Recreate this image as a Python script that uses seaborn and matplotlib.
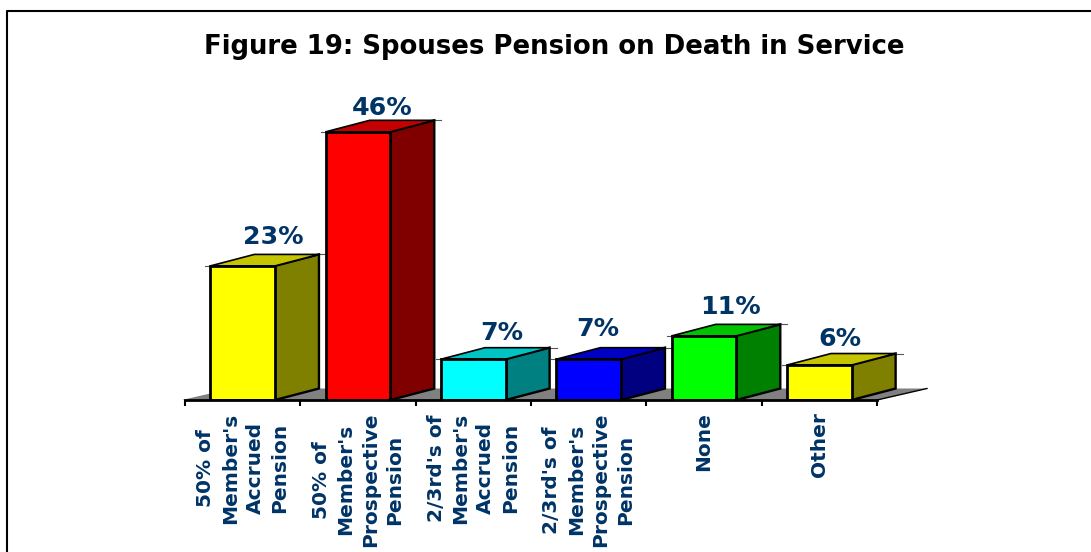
import matplotlib
matplotlib.use("Agg")
import matplotlib.pyplot as plt
from matplotlib.lines import Line2D
from matplotlib.patches import Polygon
import seaborn as sns

categories = ["50% of\nMember's\nAccrued\nPension",
              "50% of\nMember's\nProspective\nPension",
              "2/3rd's of\nMember's\nAccrued\nPension",
              "2/3rd's of\nMember's\nProspective\nPension",
              "None",
              "Other"]
values = [23, 46, 7, 7, 11, 6]
front_colors = ["#ffff00", "#ff0000", "#00ffff", "#0000ff", "#00ff00", "#ffff00"]
side_colors = ["#808000", "#800000", "#008080", "#000080", "#008000", "#808000"]
top_colors = ["#c4c400", "#c40000", "#00c4c4", "#0000c4", "#00c400", "#c4c400"]
title = "Figure 19: Spouses Pension on Death in Service"
TEXT = "#003366"

W, H = 1091, 552
fig = plt.figure(figsize=(W / 100, H / 100), dpi=100, facecolor="white")
PX_PER_CAT = 692 / 6
PX_PER_PCT = 5.83
ax = fig.add_axes([185 / W, (H - 400) / H, 692 / W, 50 * PX_PER_PCT / H])
ax.set_facecolor("none")

sns.barplot(x=categories, y=values, hue=categories, palette=front_colors, legend=False,
            dodge=False, width=0.56, saturation=1, edgecolor="black", linewidth=2,
            zorder=5, ax=ax)
ax.set_xlim(-0.5, 5.5)
ax.set_ylim(0, 50)

dx = 44 / PX_PER_CAT
dy = 11.5 / PX_PER_PCT
spur = 7 / PX_PER_CAT

# floor of the pseudo-3D chart
ax.add_patch(Polygon([(-0.5 - 3 / PX_PER_CAT, 0), (-0.5 + 47 / PX_PER_CAT, dy),
                      (5.5 + 50 / PX_PER_CAT, dy), (5.5, 0)],
                     closed=True, facecolor="#808080", edgecolor="none", zorder=1, clip_on=False))
ax.plot([5.5, 5.5 + 50 / PX_PER_CAT], [0, dy], color="black", lw=1, zorder=1, clip_on=False)

bars = [c[0] for c in ax.containers]
label_dx = [31, 24, 28, 9, 26, 21]
label_dy = [17, 12, 15, 19, 17, 15]
for bar, side, top, val, ldx, ldy in zip(bars, side_colors, top_colors, values, label_dx, label_dy):
    x0, w, h = bar.get_x(), bar.get_width(), bar.get_height()
    x1 = x0 + w
    ax.add_patch(Polygon([(x1, 0), (x1 + dx, dy), (x1 + dx, h + dy), (x1, h)], closed=True,
                         facecolor=side, edgecolor="black", linewidth=1.7, zorder=4, clip_on=False))
    ax.add_patch(Polygon([(x0, h), (x0 + dx, h + dy), (x1 + dx, h + dy), (x1, h)], closed=True,
                         facecolor=top, edgecolor="black", linewidth=1.2, zorder=4, clip_on=False))
    # thin spurs where the gridline plane shows past the bar top
    ax.plot([x1 + dx, x1 + dx + spur], [h + dy, h + dy], color="#555555", lw=0.8, zorder=3, clip_on=False)
    ax.plot([x0 - spur * 0.7, x0], [h, h], color="#555555", lw=0.8, zorder=3, clip_on=False)
    ax.annotate(f"{val}%", (x0 + w / 2, h + dy), xytext=(ldx * 0.72, ldy * 0.72),
                textcoords="offset points", ha="center", va="center", fontsize=18.2,
                fontweight="bold", color=TEXT, zorder=6, annotation_clip=False)

sns.despine(ax=ax, left=True, top=True, right=True)
ax.spines["bottom"].set_linewidth(2)
ax.spines["bottom"].set_zorder(6)
ax.yaxis.set_visible(False)
# ticks mark the category boundaries, labels sit between them
ax.set_xticks([i - 0.5 for i in range(len(categories) + 1)], labels=[""] * (len(categories) + 1))
ax.tick_params(axis="x", length=4.5, width=1.5, color="black")
for i, cat in enumerate(categories):
    ax.annotate(cat, (i, 0), xytext=(0, -9), textcoords="offset points", rotation=90,
                ha="center", va="top", multialignment="center", fontsize=14.5,
                fontweight="bold", color=TEXT, linespacing=1.37, annotation_clip=False)

fig.text(554.5 / W, 1 - 46.5 / H, title, ha="center", va="center", fontsize=18.7,
         fontweight="bold", color="black")

# chart-area frame (open at the right and bottom of the crop)
fig.add_artist(Line2D([6.5 / W, 6.5 / W, 1], [0, 1 - 11 / H, 1 - 11 / H],
                      color="black", lw=1.5))

fig.savefig("out.png", dpi=100, facecolor="white")
